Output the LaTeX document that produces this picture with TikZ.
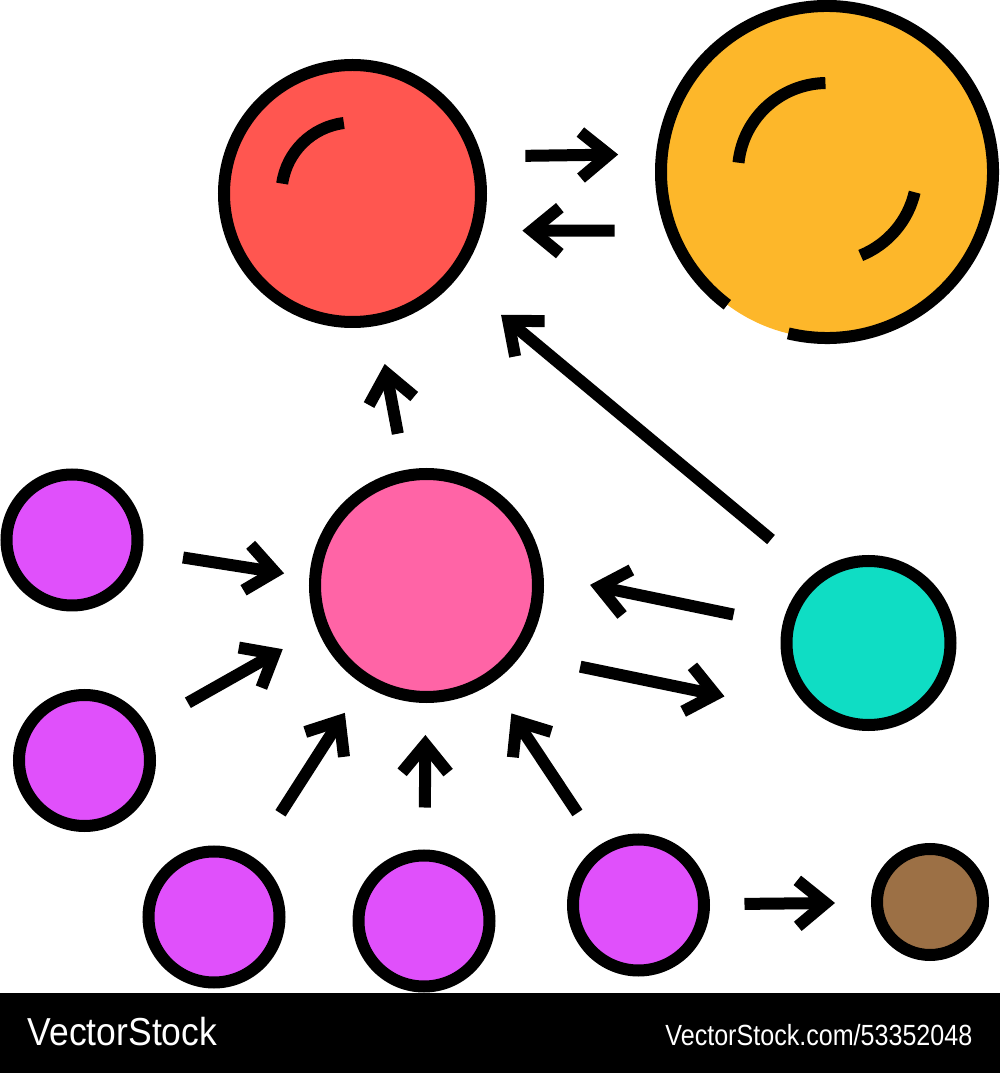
\documentclass[tikz,border=0pt]{standalone}
\usepackage{fontspec}
\newfontfamily\marca{Liberation Sans}
\usetikzlibrary{arrows.meta}

\definecolor{vermelho}{HTML}{FF5650}
\definecolor{laranja}{HTML}{FDB72A}
\definecolor{rosa}{HTML}{FF64A6}
\definecolor{roxo}{HTML}{E050FB}
\definecolor{turquesa}{HTML}{0FDDC4}
\definecolor{castanho}{HTML}{9C7045}

\tikzset{
    bola/.style={circle, draw=black, line width=1.2mm, inner sep=0pt},
    traco/.style={line width=1.2mm, line cap=butt},
    seta/.style={line width=1.2mm, -{Straight Barb[length=2.8mm, width=4.6mm, sharp]}}
}

\begin{document}
\begin{tikzpicture}
        \useasboundingbox (0,0) rectangle (10,10.73);
        % faixa preta em baixo
        \fill[black] (0,0) rectangle (10,0.80);
        \node[anchor=base west, inner sep=0pt, text=white, font=\marca\fontsize{11.1}{13}\selectfont] (marca) at (0.27,0.27) {\scalebox{0.91}[1]{VectorStock}};
        \node[anchor=base east, inner sep=0pt, text=white, font=\marca\fontsize{8.3}{10}\selectfont] (codigo) at (9.73,0.28) {\scalebox{0.86}[1]{VectorStock.com/53352048}};
        % bolas grandes
        \node[bola, fill=vermelho, minimum size=2.57cm] (vm) at (3.525,8.795) {};
        \node[bola, draw=none, fill=laranja, minimum size=3.32cm] (lj) at (8.27,9.01) {};
        \node[bola, fill=rosa, minimum size=2.23cm] (rs) at (4.265,4.875) {};
        \node[bola, fill=turquesa, minimum size=1.64cm] (tq) at (8.685,4.30) {};
        \node[bola, fill=castanho, minimum size=1.06cm] (ct) at (9.30,1.71) {};
        % bolas roxas
        \foreach \nome/\x/\y in {r1/0.72/5.33, r2/0.845/3.125, r3/2.14/1.56, r4/4.24/1.52, r5/6.385/1.68}{
            \node[bola, fill=roxo, minimum size=1.31cm] (\nome) at (\x,\y) {};
        }
        % contorno aberto da bola laranja e brilhos
        \draw[traco] ([shift={(-103.5:1.66)}]lj.center) arc[start angle=-103.5, end angle=233.1, radius=1.66];
        \draw[traco] ([shift={(174:0.89)}]lj.center) arc[start angle=174, end angle=91, radius=0.89];
        \draw[traco] ([shift={(-13:0.90)}]lj.center) arc[start angle=-13, end angle=-68, radius=0.90];
        \draw[traco] ([shift={(172:0.71)}]vm.center) arc[start angle=172, end angle=97, radius=0.71];
        % setas entre as bolas
        \draw[seta, shorten <=4.36mm, shorten >=3.78mm] (vm.16.6) -- (lj.174.3);
        \draw[seta, shorten <=5.08mm, shorten >=4.06mm] (lj.200.4) -- (vm.-16.6);
        \draw[seta, shorten <=3.7mm, shorten >=3.9mm] (rs) -- (vm);
        \draw[seta, shorten <=5.48mm, shorten >=5.73mm] (tq.129.4) -- (vm.-39.7);
        \draw[seta, shorten <=4.09mm, shorten >=2.55mm] (r1.-9) -- (rs.176.9);
        \draw[seta, shorten <=4.69mm, shorten >=4.0mm] (r2.29) -- (rs.202.5);
        \draw[seta, shorten <=5.17mm, shorten >=3.38mm] (r3) -- (rs);
        \draw[seta, shorten <=4.2mm, shorten >=3.2mm] (r4) -- (rs);
        \draw[seta, shorten <=3.9mm, shorten >=3.6mm] (r5) -- (rs);
        \draw[seta, shorten <=4.99mm, shorten >=4.75mm] (tq.168.3) -- (rs.5);
        \draw[seta, shorten <=5.99mm, shorten >=9.68mm] (rs.-36.2) -- (tq.236.7);
        \draw[seta, shorten <=3.45mm, shorten >=3.6mm] (r5) -- (ct);
    \end{tikzpicture}
\end{document}
